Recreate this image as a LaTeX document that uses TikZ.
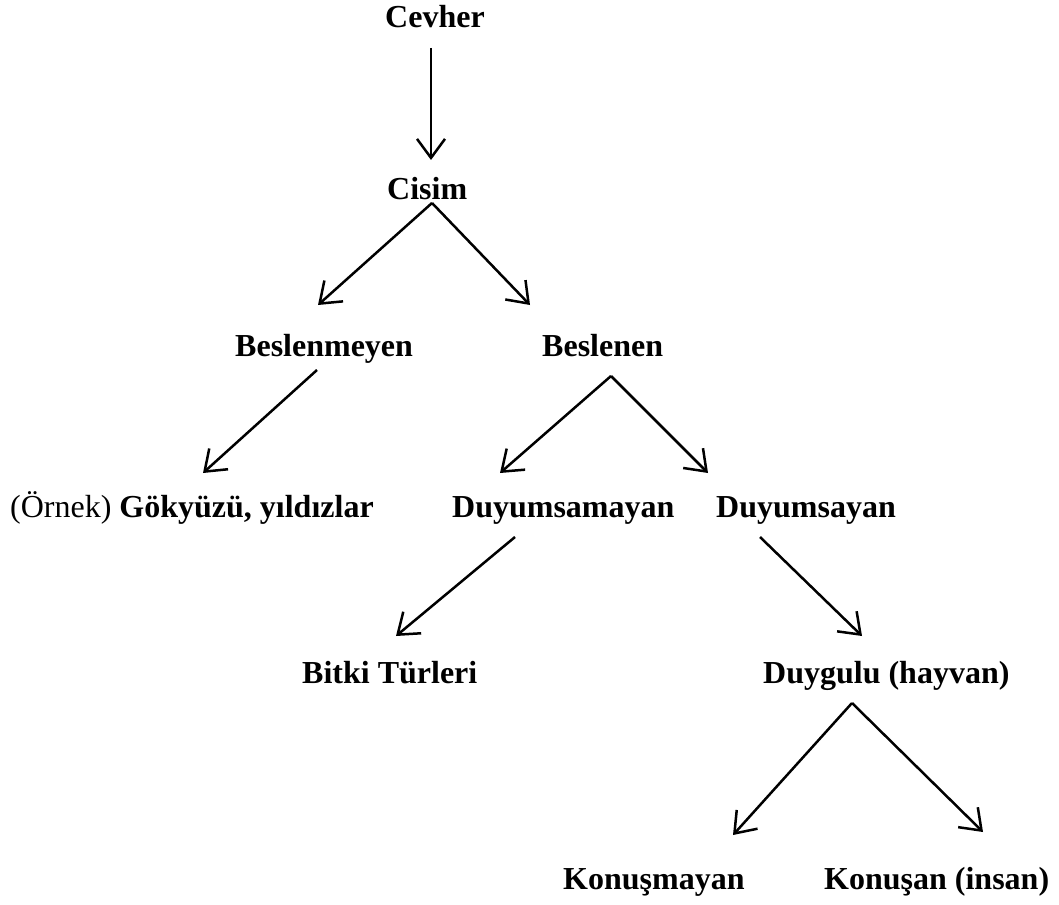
\documentclass[tikz,border=0pt]{standalone}
\usepackage{fontspec}
\setmainfont{Liberation Serif}
\usetikzlibrary{arrows.meta}
\begin{document}
\begin{tikzpicture}[x=1pt,y=-1pt,
  lbl/.style={anchor=base west,inner sep=0pt,font=\fontsize{32}{38}\selectfont\bfseries},
  arr/.style={line width=2.5pt,-{Straight Barb[length=19pt,width=28pt,line width=2.5pt]}}]
\useasboundingbox (0,0) rectangle (1059,904);
% nodes
\node[lbl] (cevher) at (385,28) {Cevher};
\node[lbl] (cisim) at (387,199) {Cisim};
\node[lbl] (beslenmeyen) at (235,356) {Beslenmeyen};
\node[lbl] (beslenen) at (542,356) {Beslenen};
\node[lbl] (gokyuzu) at (10,517) {\mdseries(Örnek)\bfseries{} Gökyüzü, yıldızlar};
\node[lbl] (duyumsamayan) at (452,517) {Duyumsamayan};
\node[lbl] (duyumsayan) at (716,517) {Duyumsayan};
\node[lbl] (bitki) at (302,683) {Bitki Türleri};
\node[lbl] (duygulu) at (763,683) {Duygulu (hayvan)};
\node[lbl] (konusmayan) at (563,889) {Konuşmayan};
\node[lbl] (konusan) at (824,889) {Konuşan (insan)};
% connector end points
\coordinate (cevherS) at (431,48);
\coordinate (cisimN) at (431,160);
\coordinate (cisimS) at (432,203);
\coordinate (beslenmeyenN) at (318,305);
\coordinate (beslenenN) at (530,305);
\coordinate (beslenmeyenS) at (317,370);
\coordinate (gokyuzuN) at (203,473);
\coordinate (beslenenS) at (611,376);
\coordinate (duyumsamayanN) at (500,473);
\coordinate (duyumsayanN) at (708,473);
\coordinate (duyumsamayanS) at (515,537);
\coordinate (bitkiN) at (396,636);
\coordinate (duyumsayanS) at (760,537);
\coordinate (duyguluN) at (862,636);
\coordinate (duyguluS) at (852,703);
\coordinate (konusmayanN) at (733,835);
\coordinate (konusanN) at (983,832);
% connectors
\draw[arr] (cevherS) -- (cisimN);
\draw[arr] (cisimS) -- (beslenmeyenN);
\draw[arr] (cisimS) -- (beslenenN);
\draw[arr] (beslenmeyenS) -- (gokyuzuN);
\draw[arr] (beslenenS) -- (duyumsamayanN);
\draw[arr] (beslenenS) -- (duyumsayanN);
\draw[arr] (duyumsamayanS) -- (bitkiN);
\draw[arr] (duyumsayanS) -- (duyguluN);
\draw[arr] (duyguluS) -- (konusmayanN);
\draw[arr] (duyguluS) -- (konusanN);
\end{tikzpicture}
\end{document}
